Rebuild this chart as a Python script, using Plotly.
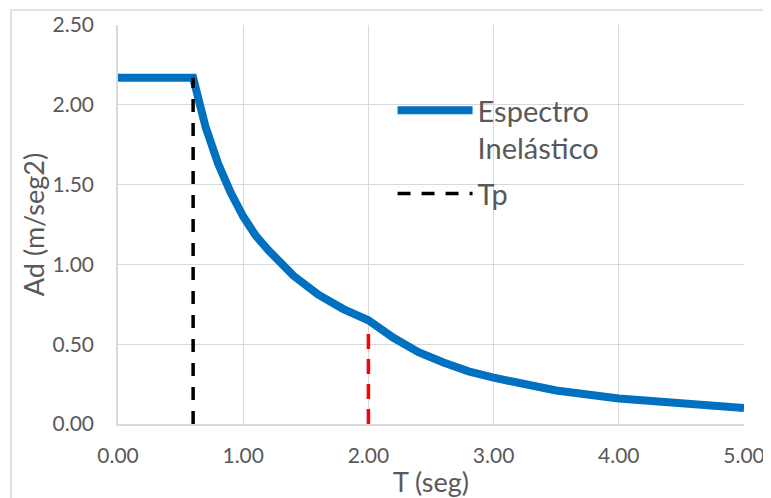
import plotly.graph_objects as go

# Data
T_vals = [0.0, 0.6, 0.7, 0.8, 0.9, 1.0, 1.1, 1.2, 1.4, 1.6, 1.8, 2.0, 2.2, 2.4, 2.6, 2.8, 3.0, 3.5, 4.0, 4.5, 5.0]
Ad_vals = [2.17, 2.17, 1.86, 1.63, 1.45, 1.30, 1.18, 1.09, 0.93, 0.81, 0.72, 0.65, 0.54, 0.45, 0.385, 0.33, 0.29, 0.21, 0.16, 0.13, 0.10]

Tp_x = [0.6, 0.6]
Tp_y = [0.0, 2.17]

Tl_x = [2.0, 2.0]
Tl_y = [0.0, 0.6]

x_ticks = [0, 1, 2, 3, 4, 5]
x_ticklabels = ["0.00", "1.00", "2.00", "3.00", "4.00", "5.00"]
y_ticks = [0, 0.5, 1.0, 1.5, 2.0, 2.5]
y_ticklabels = ["0.00", "0.50", "1.00", "1.50", "2.00", "2.50"]

FONT = "Lato"
GRAY = "#595959"
GRID = "#d9d9d9"

# page body has an 8px margin, compensated in the layout margins
ML, MR, MT, MB = 110, 35, 17, 82
PW = 771 - ML - MR
PH = 498 - MT - MB

fig = go.Figure()
fig.add_trace(go.Scatter(
    x=T_vals, y=Ad_vals, mode="lines", name="Espectro<br>Inelástico",
    legendgroup="a",
    line=dict(color="#0070C0", width=8, shape="linear"),
))
fig.add_trace(go.Scatter(
    x=Tp_x, y=Tp_y, mode="lines", name="Tp", legendgroup="b",
    line=dict(color="#000000", width=3.5, dash="13px,11px"),
))
fig.add_trace(go.Scatter(
    x=Tl_x, y=Tl_y, mode="lines", name="TL", showlegend=False, legendgroup="c",
    line=dict(color="#ff0000", width=3.5, dash="15px,10px"),
))

fig.update_layout(
    width=771, height=498,
    margin=dict(l=ML, r=MR, t=MT, b=MB, autoexpand=False),
    paper_bgcolor="white", plot_bgcolor="white",
    font=dict(family=FONT, color=GRAY, size=21),
    showlegend=True,
    legend=dict(
        x=0.4386, y=0.85, xanchor="left", yanchor="top",
        bgcolor="rgba(0,0,0,0)", font=dict(size=29, color=GRAY, family=FONT),
        itemwidth=75, valign="top", traceorder="grouped", tracegroupgap=5,
    ),
    xaxis=dict(
        range=[0, 5], tickvals=x_ticks, ticktext=x_ticklabels,
        showgrid=True, gridcolor=GRID, gridwidth=1,
        showline=True, linecolor=GRID, linewidth=1.5,
        zeroline=False, ticks="", ticklabelstandoff=12, automargin=False,
        tickfont=dict(size=21, color=GRAY, family=FONT),
        title=dict(text="T (seg)", font=dict(size=27, color=GRAY, family=FONT), standoff=7),
        fixedrange=True,
    ),
    yaxis=dict(
        range=[0, 2.5], tickvals=y_ticks, ticktext=y_ticklabels,
        showgrid=True, gridcolor=GRID, gridwidth=1,
        showline=True, linecolor=GRID, linewidth=1.5,
        zeroline=False, ticks="", ticklabelstandoff=18, automargin=False,
        tickfont=dict(size=21, color=GRAY, family=FONT),
        title=dict(text="Ad (m/seg2)", font=dict(size=27, color=GRAY, family=FONT), standoff=0),
        fixedrange=True,
    ),
    shapes=[dict(
        type="rect", xref="paper", yref="paper",
        x0=(3 - ML) / PW, x1=1.2, y0=-0.5, y1=(PH + MT - 2) / PH,
        line=dict(color=GRID, width=1.5), fillcolor="rgba(0,0,0,0)", layer="below",
    )],
)

fig.write_html("out.html")
